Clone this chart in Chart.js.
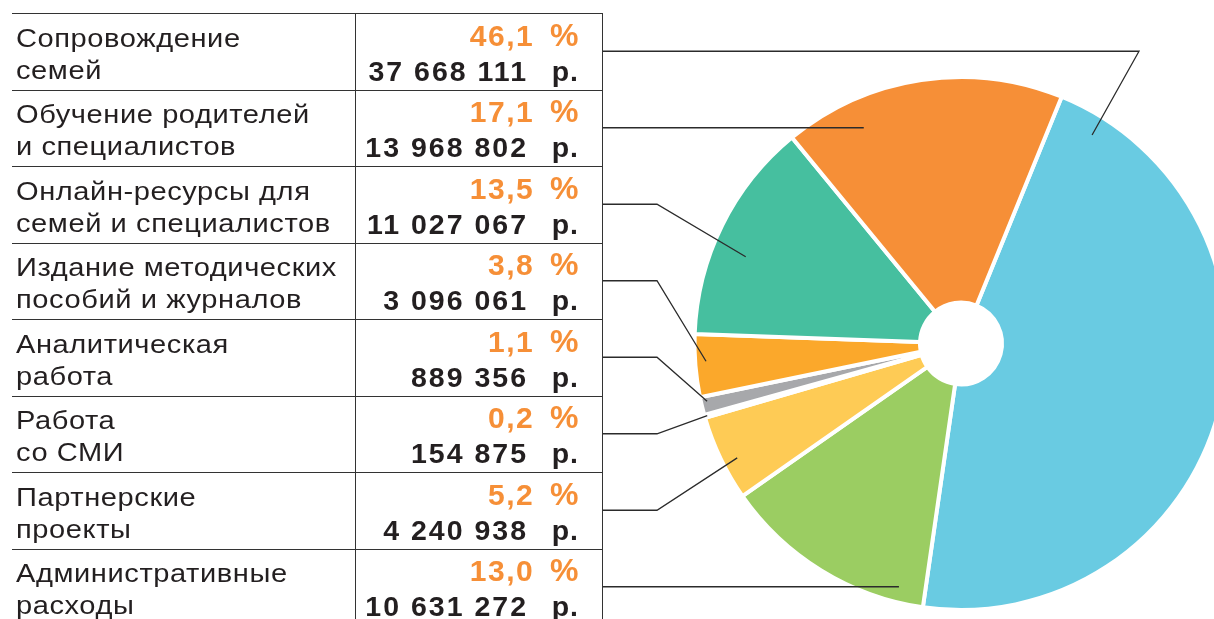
<!DOCTYPE html>
<html>
<head>
<meta charset="utf-8">
<script src="https://cdn.jsdelivr.net/npm/chart.js@4/dist/chart.umd.min.js"></script>
<style>
  body { margin: 0; width: 1214px; height: 619px; overflow: hidden; background: #fff;
         font-family: "Liberation Sans", Arial, sans-serif; color: #231f20; }
  #wrap { position: absolute; left: 0; top: 0; width: 1240px; height: 619px; }
  #tbl { position: absolute; left: 0; top: 0; width: 620px; height: 619px; }
  .hline { position: absolute; height: 0; border-top: 1.5px solid #333; }
  .vline { position: absolute; width: 0; border-left: 1.5px solid #333; }
  .lbl { position: absolute; left: 16px; font-size: 25.5px; line-height: 32px; white-space: nowrap;
         letter-spacing: 0.5px; transform: scaleX(1.14); transform-origin: 0 0; }
  .pct { position: absolute; left: 300px; width: 280px; text-align: right; font-size: 30px; line-height: 30px;
         font-weight: bold; color: #f68f37; letter-spacing: 1.5px; white-space: nowrap; }
  .pct span { margin-left: 6px; font-size: 32px; line-height: 30px; }
  .amt { position: absolute; left: 280px; width: 248px; text-align: right; font-size: 28.5px; line-height: 28px;
         font-weight: bold; letter-spacing: 2px; white-space: nowrap; }
  .rub { position: absolute; left: 520px; width: 59px; text-align: right; font-size: 28.5px; line-height: 28px;
         font-weight: bold; letter-spacing: 1px; }
</style>
</head>
<body>
<div id="wrap"><canvas id="pie"></canvas></div>
<div id="tbl"></div>
<script>
// budget items as they appear in the table (top to bottom)
const categories = [
  ['Сопровождение', 'семей'],
  ['Обучение родителей', 'и специалистов'],
  ['Онлайн-ресурсы для', 'семей и специалистов'],
  ['Издание методических', 'пособий и журналов'],
  ['Аналитическая', 'работа'],
  ['Работа', 'со СМИ'],
  ['Партнерские', 'проекты'],
  ['Административные', 'расходы']
];
const percents = [46.1, 17.1, 13.5, 3.8, 1.1, 0.2, 5.2, 13.0];
const amounts = [37668111, 13968802, 11027067, 3096061, 889356, 154875, 4240938, 10631272];
const colors = ['#69cbe2', '#f68f37', '#46bf9f', '#fba82b', '#a7a8ab', '#6baa52', '#fecb55', '#9bcd62'];

// order of the slices clockwise around the pie
const pieOrder = [0, 7, 6, 5, 4, 3, 2, 1];

// leader lines: knee x (null = straight), position along slice, fraction of radius
const leaderKnee = [1139, null, 657, 657, 657, 657, 657, null];
const leaderAlong = [0.06, 0.27, 0.41, 0.56, 0.7, 0.5, 0.42, 0.2];
const leaderRadius = [0.924, 0.888, 0.871, 0.959, 0.977, 0.99, 0.943, 0.942];

const tableTop = 13, rowH = 76.5, tableLeft = 12, colX = 355, tableRight = 602;

function fmt(n) {
  return String(n).replace(/\B(?=(\d{3})+(?!\d))/g, ' ');
}

const tbl = document.getElementById('tbl');
function add(cls, css, text) {
  const d = document.createElement('div');
  d.className = cls;
  Object.assign(d.style, css);
  if (text !== undefined) d.textContent = text;
  tbl.appendChild(d);
  return d;
}

for (let i = 0; i <= categories.length; i++) {
  const y = tableTop + i * rowH;
  add('hline', {left: tableLeft + 'px', top: y + 'px', width: (tableRight - tableLeft) + 'px'});
}
add('vline', {left: colX + 'px', top: tableTop + 'px', height: '619px'});
add('vline', {left: tableRight + 'px', top: tableTop + 'px', height: '619px'});

categories.forEach((c, i) => {
  const top = tableTop + i * rowH;
  const l = add('lbl', {top: (top + 8.5) + 'px'});
  l.innerHTML = c[0] + '<br>' + c[1];
  const p = add('pct', {top: (top + 6.5) + 'px'}, percents[i].toFixed(1).replace('.', ',') + ' ');
  const s = document.createElement('span');
  s.textContent = '%';
  p.appendChild(s);
  add('amt', {top: (top + 43.5) + 'px'}, fmt(amounts[i]));
  add('rub', {top: (top + 43.5) + 'px'}, 'р.');
});

const leaderLines = {
  id: 'leaderLines',
  afterDatasetsDraw(chart) {
    const ctx = chart.ctx;
    const arcs = chart.getDatasetMeta(0).data;
    ctx.save();
    ctx.strokeStyle = '#2b2b2b';
    ctx.lineWidth = 1.3;
    categories.forEach((c, i) => {
      const arc = arcs[pieOrder.indexOf(i)];
      const rowY = tableTop + i * rowH + rowH / 2;
      const r = arc.outerRadius * leaderRadius[i];
      let ex, ey;
      if (leaderKnee[i] === null) {
        ey = rowY;
        ex = arc.x - Math.sqrt(r * r - (rowY - arc.y) * (rowY - arc.y));
      } else {
        const a = arc.startAngle + (arc.endAngle - arc.startAngle) * leaderAlong[i];
        ex = arc.x + r * Math.cos(a);
        ey = arc.y + r * Math.sin(a);
      }
      ctx.beginPath();
      ctx.moveTo(tableRight, rowY);
      if (leaderKnee[i] !== null) ctx.lineTo(leaderKnee[i], rowY);
      ctx.lineTo(ex, ey);
      ctx.stroke();
    });
    ctx.restore();
  }
};

new Chart(document.getElementById('pie'), {
  type: 'doughnut',
  data: {
    labels: pieOrder.map(i => categories[i].join(' ')),
    datasets: [{
      data: pieOrder.map(i => amounts[i]),
      backgroundColor: pieOrder.map(i => colors[i]),
      borderColor: '#ffffff',
      borderWidth: 4
    }]
  },
  options: {
    responsive: true,
    maintainAspectRatio: false,
    animation: false,
    rotation: 22.2,
    cutout: 41,
    layout: { padding: { left: 692.5, right: 10.5, top: 75, bottom: 7 } },
    plugins: { legend: { display: false }, tooltip: { enabled: false } }
  },
  plugins: [leaderLines]
});
</script>
</body>
</html>
